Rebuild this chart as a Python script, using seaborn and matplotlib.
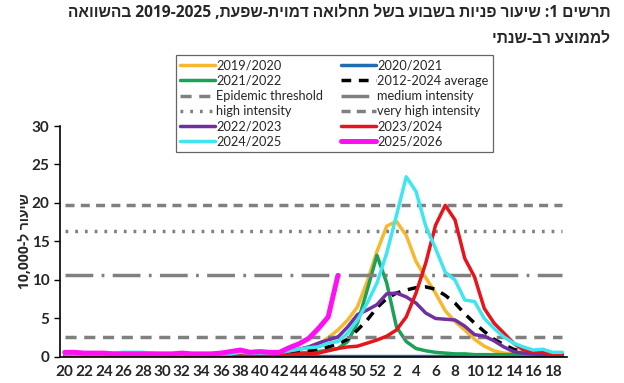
import re
import numpy as np
import pandas as pd
import matplotlib.pyplot as plt
import seaborn as sns


def rtl(text):
    # matplotlib has no bidi: reverse the Hebrew, keep number runs in order
    rev = text[::-1]
    return re.sub(r'\d[\d,.\-]*\d|\d', lambda m: m.group(0)[::-1], rev)


weeks = list(range(20, 53)) + list(range(1, 20))

s2019 = [0.3] * 20 + [0.4, 0.5, 0.6, 0.8, 1.0, 1.3, 1.7, 2.5, 3.5, 4.8, 6.5, 9.8, 13.7,
                      17.0, 17.6, 15.8, 12.4, 10.3, 8.3, 6.0, 4.6, 3.5, 2.3, 1.4, 0.8, 0.5,
                      0.4, 0.3, 0.3, 0.3, 0.3, 0.3]
s2020 = [0.1] * 33 + [0.1, 0.1, 0.1, 0.1, 0.1, 0.1, 0.1, 0.1, 0.1, 0.1, 0.1, 0.1, 0.1,
                      0.1, 0.1, 0.1, 0.1, 0.1, 0.1]
s2021 = [0.2] * 20 + [0.2, 0.3, 0.3, 0.4, 0.5, 0.6, 0.7, 0.9, 1.1, 2.0, 4.4, 8.7, 13.2,
                      9.6, 3.9, 2.0, 1.1, 0.8, 0.6, 0.5, 0.4, 0.4, 0.3, 0.3, 0.3, 0.3,
                      0.3, 0.3, 0.3, 0.3, 0.3, 0.3]
avg = [0.25] * 20 + [0.3, 0.3, 0.4, 0.5, 0.6, 0.8, 1.0, 1.3, 1.7, 2.3, 3.5, 4.8, 6.4,
                     7.6, 8.3, 8.7, 9.0, 9.1, 8.8, 8.0, 7.0, 5.6, 4.4, 3.3, 2.3, 1.6,
                     1.0, 0.7, 0.5, 0.4, 0.3, 0.3]
s2022 = [0.3] * 20 + [0.4, 0.5, 0.6, 0.8, 1.0, 1.3, 1.8, 2.2, 2.6, 3.9, 5.5, 6.1, 6.8,
                      8.2, 8.3, 7.8, 7.0, 5.7, 5.0, 4.9, 4.8, 4.0, 2.9, 2.7, 2.1, 1.3,
                      0.7, 0.5, 0.4, 0.3, 0.3, 0.3]
s2023 = [0.2] * 20 + [0.2, 0.2, 0.3, 0.3, 0.4, 0.4, 0.5, 0.8, 1.1, 1.3, 1.4, 1.8, 2.2,
                      2.7, 3.5, 5.2, 8.3, 12.2, 17.1, 19.7, 17.8, 12.8, 10.4, 6.3, 4.4, 3.1,
                      1.8, 0.9, 0.7, 0.6, 0.3, 0.4]
s2024 = [0.4, 0.4, 0.4, 0.4, 0.4, 0.5, 0.6, 0.6, 0.6, 0.5, 0.4, 0.4, 0.4, 0.4, 0.4, 0.4,
         0.4, 0.4, 0.6, 0.5,
         0.5, 0.5, 0.6, 0.8, 1.0, 1.2, 1.3, 1.8, 2.0, 3.1, 4.8, 7.0, 9.6,
         13.5, 18.4, 23.4, 21.5, 17.0, 14.1, 11.0, 10.0, 7.4, 7.2, 5.0, 3.7, 2.6,
         1.8, 1.3, 0.9, 1.0, 0.6, 0.6]
s2025 = [0.6, 0.6, 0.5, 0.5, 0.5, 0.4, 0.4, 0.4, 0.4, 0.4, 0.4, 0.4, 0.5, 0.4, 0.4, 0.4,
         0.5, 0.7, 0.9, 0.6, 0.7, 0.6, 0.6, 1.2, 1.7, 2.4, 3.7, 5.2, 10.6] + [np.nan] * 23

EPIDEMIC = 2.6
MEDIUM = 10.7
HIGH = 16.3
VERY_HIGH = 19.7

title1 = 'תרשים 1: שיעור פניות בשבוע בשל תחלואה דמוית-שפעת, 2019-2025 בהשוואה'
title2 = 'לממוצע רב-שנתי'
ylabel = 'שיעור ל-10,000'

df = pd.DataFrame({'idx': np.arange(len(weeks)), 'week': weeks})

sns.set_style('white')
plt.rcParams['font.family'] = ['Open Sans', 'Liberation Sans', 'DejaVu Sans']

fig, ax = plt.subplots(figsize=(6.24, 3.83), dpi=100)
fig.subplots_adjust(left=0.096, right=0.909, bottom=0.068, top=0.671)

lw = 2.5
x0, x1 = df['idx'].iloc[0], df['idx'].iloc[-1]


def season(vals, color, label, width=lw, **kw):
    sns.lineplot(x=df['idx'], y=vals, color=color, lw=width, label=label, ax=ax, **kw)


season(s2019, '#F5B82E', '2019/2020')
season(s2020, '#1F6DB0', '2020/2021')
season(s2021, '#1AA257', '2021/2022')
season(avg, 'black', '2012-2024 average')
ax.lines[-1].set_dashes((2.8, 2.2))
ax.hlines(EPIDEMIC, x0, x1, color='#808080', lw=lw, label='Epidemic threshold').set_dashes([(0, (3.2, 2.2))])
ax.hlines(MEDIUM, x0, x1, color='#808080', lw=lw, label='medium intensity').set_dashes([(0, (8.0, 2.4, 0.8, 2.4))])
ax.hlines(HIGH, x0, x1, color='#808080', lw=lw, label='high intensity').set_dashes([(0, (0.8, 2.0))])
ax.hlines(VERY_HIGH, x0, x1, color='#808080', lw=lw, label='very high intensity').set_dashes([(0, (2.6, 1.8))])
season(s2022, '#7030A0', '2022/2023')
season(s2023, '#E8141B', '2023/2024')
season(s2024, '#3FE6F0', '2024/2025')
season(s2025, '#FF10F0', '2025/2026', width=3.6)

ax.set_ylim(0, 30)
ax.set_xlim(-0.5, 51.5)
ax.set_yticks(range(0, 31, 5))
ax.set_xticks(df['idx'][::2])
ax.set_xticklabels(df['week'][::2])
ax.set_xticks(np.arange(-0.5, 52, 1), minor=True)
ax.tick_params(axis='x', which='major', length=0, pad=6)
ax.tick_params(axis='x', which='minor', length=3, direction='inout', width=1, color='black')
ax.tick_params(axis='y', length=4, width=1, direction='out', color='black', left=True)
for lab in ax.get_xticklabels() + ax.get_yticklabels():
    lab.set_fontweight('bold')
    lab.set_fontsize(11)
    lab.set_family(['Lato', 'DejaVu Sans'])
ax.set_xlabel('')
ax.set_ylabel(rtl(ylabel), fontsize=10, fontweight='bold', labelpad=0)
sns.despine(ax=ax)
for sp in ('left', 'bottom'):
    ax.spines[sp].set_color('black')
    ax.spines[sp].set_linewidth(1.2)

h, l = ax.get_legend_handles_labels()
order = ['2019/2020', '2021/2022', 'Epidemic threshold', 'high intensity', '2022/2023', '2024/2025',
         '2020/2021', '2012-2024 average', 'medium intensity', 'very high intensity', '2023/2024', '2025/2026']
hd = dict(zip(l, h))
leg = ax.legend([hd[k] for k in order], order, ncol=2, loc='upper left',
                bbox_to_anchor=(0.282, 0.856), bbox_transform=fig.transFigure,
                prop={'family': ['Lato', 'DejaVu Sans'], 'size': 9.2},
                frameon=True, fancybox=False, edgecolor='#404040',
                handlelength=2.7, handletextpad=0.1, labelspacing=0.25,
                columnspacing=1.4, borderpad=0.35, borderaxespad=0)
leg.get_frame().set_linewidth(0.9)

fig.text(0.978, 0.966, rtl(title1), ha='right', va='center', fontsize=11.2, fontweight='bold')
fig.text(0.978, 0.898, rtl(title2), ha='right', va='center', fontsize=11.2, fontweight='bold')

fig.savefig('out.png', dpi=100)
